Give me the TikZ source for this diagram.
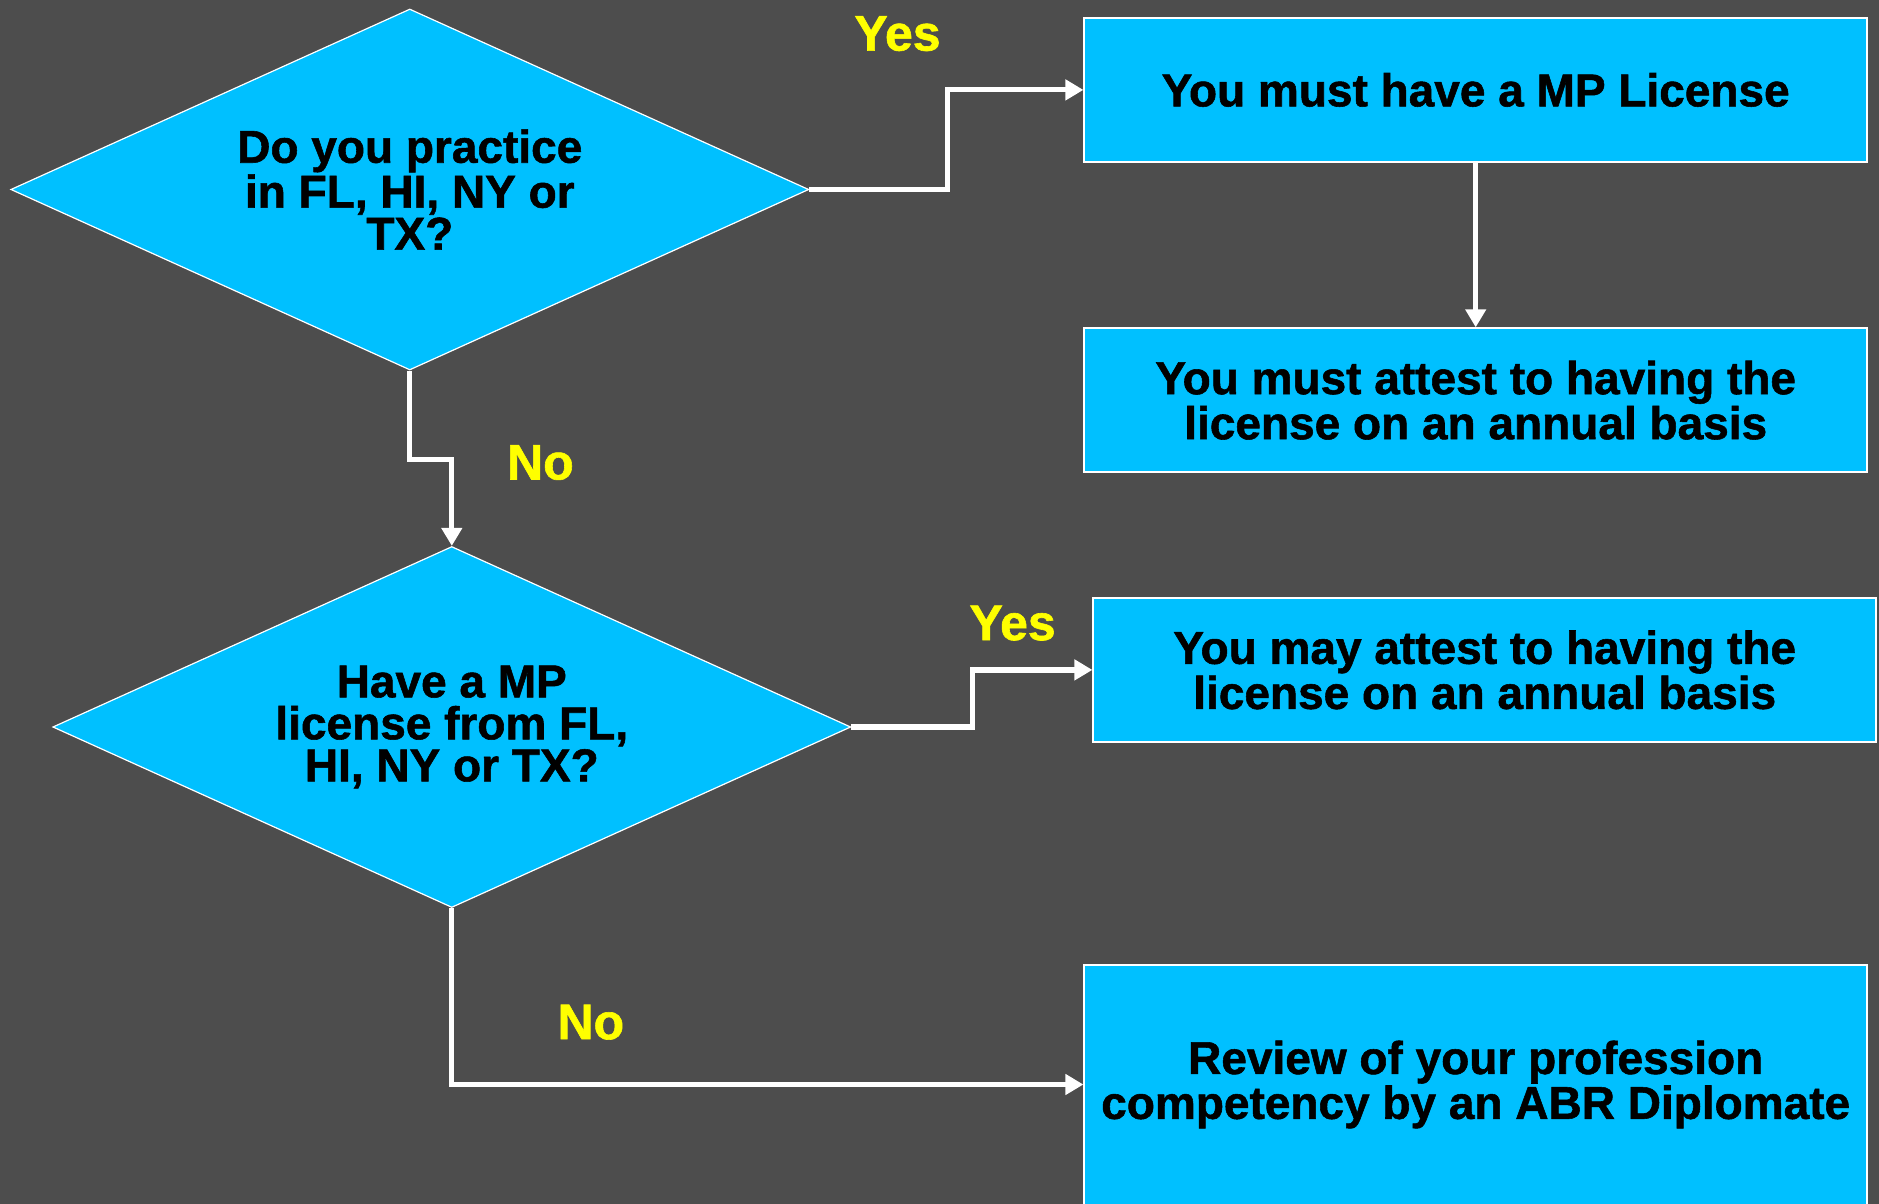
\documentclass[tikz,border=0pt]{standalone}
\usepackage{fontspec}
\setmainfont{Liberation Sans}[BoldFeatures={FakeBold=1.2}]
\usetikzlibrary{shapes.geometric,arrows.meta}
\definecolor{bg}{RGB}{77,77,77}
\definecolor{sky}{RGB}{0,192,255}
\definecolor{yes}{RGB}{255,255,0}
\begin{document}
\begin{tikzpicture}[>={Triangle[length=9pt,width=10pt]},x=0.5pt,y=-0.5pt,
    font=\fontsize{23}{21}\selectfont\bfseries,
    qbox/.style={diamond,aspect=2.2,draw=white,line width=0.6pt,fill=sky,inner sep=0pt,
        minimum width=399pt,minimum height=180.5pt,align=center},
    abox/.style={rectangle,draw=white,line width=1pt,fill=sky,inner sep=0pt,
        minimum width=391.3pt,minimum height=71.9pt,align=center},
    lbl/.style={text=yes,font=\fontsize{25}{25}\selectfont\bfseries},
    flow/.style={draw=white,line width=2.6pt,->}]
    \fill[bg] (0,0) rectangle (1879,1204);
    \useasboundingbox (0,0) rectangle (1879,1204);
    % questions
    \node[qbox] (q1) at (409.8,189.5) {Do you practice\\in FL, HI, NY or\\TX?};
    \node[qbox] (q2) at (451.8,727) {Have a MP\\license from FL,\\HI, NY or TX?};
    % answers
    \node[abox] (b1) at (1475.7,89.9) {You must have a MP License};
    \node[abox] (b2) at (1475.7,400.2) {You must attest to having the\\license on an annual basis};
    \node[abox] (b3) at (1484.7,669.9) {You may attest to having the\\license on an annual basis};
    \node[abox,minimum height=120pt] (b4) at (1475.7,1084.5) {Review of your profession\\competency by an ABR Diplomate};
    % labels
    \node[lbl] (y1) at (897.5,33.6) {Yes};
    \node[lbl] (n1) at (540.4,462.5) {No};
    \node[lbl] (y2) at (1012.6,623.1) {Yes};
    \node[lbl] (n2) at (590.8,1022.2) {No};
    % connectors
    \draw[flow] (q1.east) -- ++(138,0) |- (b1.west);
    \draw[flow] (b1.south) -- (b2.north);
    \draw[flow] (q1.south) -- ++(0,89) -| (q2.north);
    \draw[flow] (q2.east) -- ++(121,0) |- (b3.west);
    \draw[flow] (q2.south) |- (b4.west);
\end{tikzpicture}
\end{document}
